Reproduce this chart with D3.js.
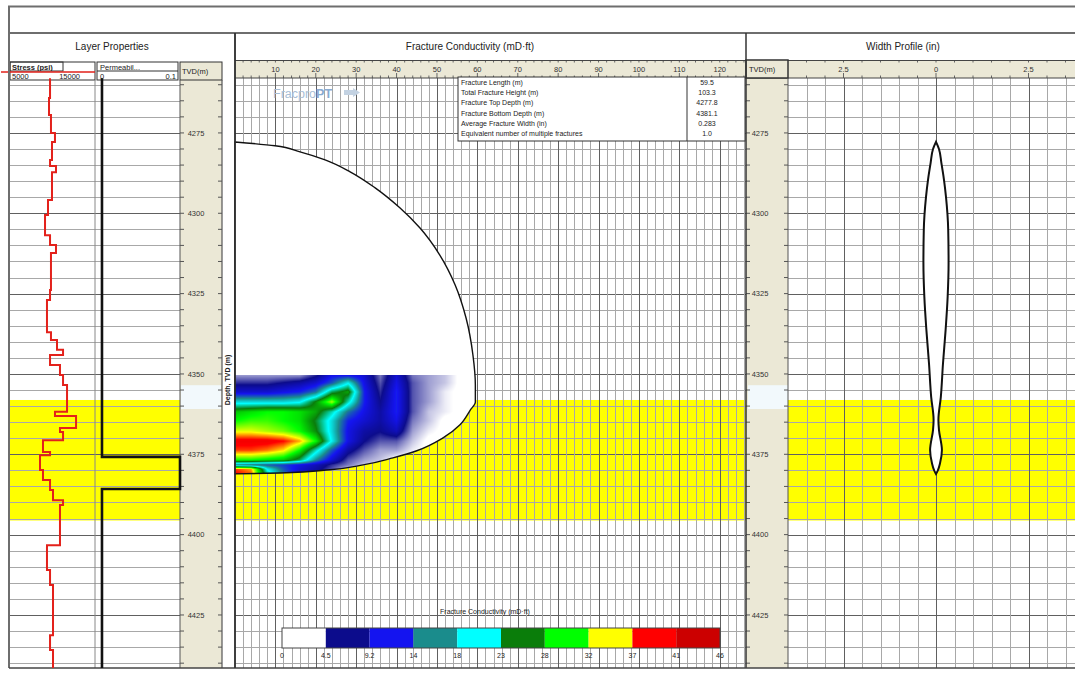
<!DOCTYPE html>
<html>
<head>
<meta charset="utf-8">
<script src="https://cdn.jsdelivr.net/npm/d3@7"></script>
<style>
  body { margin: 0; background: #fff; }
  svg { display: block; font-family: "Liberation Sans", Arial, sans-serif; }
</style>
</head>
<body>
<svg id="chart" width="1075" height="676"></svg>
<script>
// ---- Data ----
const depthTicks = [4275, 4300, 4325, 4350, 4375, 4400, 4425];
const lengthTicks = [10, 20, 30, 40, 50, 60, 70, 80, 90, 100, 110, 120];
const widthTicks = [-2.5, 0, 2.5];

// closure stress log: top depth of each layer (m) and stress (psi)
const stressTop = [4258, 4264.1, 4269.4, 4275.0, 4277.8, 4283.4, 4285.3, 4287.2, 4295.9, 4300.5,
  4306.8, 4309.9, 4312.4, 4323.9, 4327.0, 4337.0, 4339.4, 4342.5, 4344.1, 4347.2,
  4350.3, 4353.4, 4361.8, 4363.1, 4366.8, 4368.1, 4370.6, 4374.3, 4375.3, 4379.9,
  4383.0, 4386.1, 4389.3, 4390.8, 4403.3, 4411.0, 4415.7, 4431.3, 4435.9];
const stressPsi = [9710, 9590, 9820, 10290, 9940, 9710, 10410, 9940, 9470, 9120,
  9710, 10410, 9820, 9710, 9350, 9820, 10530, 11240, 9710, 10880,
  11240, 11710, 10290, 12770, 10880, 11240, 8880, 9710, 8530, 8880,
  9710, 10060, 11240, 10880, 9350, 9710, 10060, 9710, 10060];

// permeability log (mD)
const permTop = [4258, 4375.8, 4385.8];
const permValue = [0.006, 0.1, 0.006];

const logBottom = 4441.5;
const payZone = [4358.1, 4395.6];
const perfZone = [4353.5, 4360.9];

// fracture outline: half-length (m) vs depth (m)
const outlineLength = [0, 9.9, 16.1, 22.3, 28.5, 34.7, 40.8, 45.8, 50.7, 54.5, 57.2, 58.9, 59.5,
  59.5, 58.2, 55.7, 51.5, 45.0, 39.1, 31.7, 23.5, 11.1, 0];
const outlineDepth = [4277.8, 4279.0, 4280.9, 4283.4, 4287.1, 4292.1, 4298.3, 4304.6, 4313.0, 4322.3, 4332.6, 4344.1, 4353.4,
  4358.7, 4361.3, 4365.8, 4369.9, 4373.9, 4376.1, 4378.3, 4379.8, 4380.8, 4381.1];

// conductivity field (mD·ft) sampled on length × depth nodes
const condLengths = [0, 4, 8, 12, 16, 20, 24, 28, 32, 36, 40, 44, 48, 52, 56];
const condDepths = [4350.3, 4352.8, 4355.6, 4358.7, 4361.8, 4364.6, 4367.8, 4370.9, 4373.7, 4376.8, 4378.3, 4379.6, 4381.8];
const condGrid = [
  [3, 3, 3, 3, 3, 6, 11, 11, 10, 4, 10, 4, 3, 2, 0],
  [6, 6, 6, 7, 8, 10, 14, 20, 11, 5, 11, 5, 3, 2, 0],
  [10, 10, 10, 11, 12, 15, 24, 27, 12, 6, 12, 5, 3, 1, 0],
  [19, 19, 19, 19, 20, 26, 33, 22, 12, 7, 12, 5, 3, 1, 0],
  [28, 29, 30, 30, 29, 27, 22, 15, 11, 8, 12, 5, 2, 1, 0],
  [30, 31, 31, 30, 29, 25, 19, 12, 10, 8, 11, 4, 2, 0, 0],
  [34, 34, 33, 32, 30, 26, 19, 11, 8, 7, 9, 3, 1, 0, 0],
  [40, 40, 40, 39, 36, 30, 20, 11, 7, 5, 5, 2, 0, 0, 0],
  [38, 38, 37, 35, 30, 22, 14, 8, 5, 3, 3, 1, 0, 0, 0],
  [30, 30, 29, 28, 24, 16, 10, 5, 3, 2, 0, 0, 0, 0, 0],
  [16, 15, 14, 13, 11, 9, 6, 4, 2, 1, 0, 0, 0, 0, 0],
  [38, 36, 20, 14, 10, 8, 5, 2, 1, 0, 0, 0, 0, 0, 0],
  [40, 38, 24, 16, 10, 7, 4, 1, 0, 0, 0, 0, 0, 0, 0]
];

// width profile: full width (in) vs depth (m)
const widthDepth = [4277.8, 4280.0, 4284.3, 4289.5, 4294.9, 4305.2, 4315.5, 4326.0, 4336.3, 4346.6,
  4357.2, 4364.3, 4367.4, 4373.7, 4377.7, 4380.0, 4381.1];
const widthInches = [0, 0.16, 0.29, 0.43, 0.54, 0.66, 0.68, 0.63, 0.52, 0.38,
  0.26, 0.13, 0.16, 0.32, 0.22, 0.10, 0];

const legendBreaks = [0, 4.5, 9.2, 14, 18, 23, 28, 32, 37, 41, 46];
const legendLabels = ["0", "4.5", "9.2", "14", "18", "23", "28", "32", "37", "41", "46"];
const legendColors = ["#ffffff", "#0c0c8c", "#1414f0", "#1a8c8c", "#00ffff", "#0a7d0a", "#00ff00", "#ffff00", "#ff0000", "#cc0000"];

const summaryLabels = ["Fracture Length (m)", "Total Fracture Height (m)", "Fracture Top Depth (m)",
  "Fracture Bottom Depth (m)", "Average Fracture Width (in)", "Equivalent number of multiple fractures"];
const summaryValues = ["59.5", "103.3", "4277.8", "4381.1", "0.283", "1.0"];

// ---- Scales ----
const svg = d3.select("#chart");
const TOP = 78.3, BOT = 668;
const y = d3.scaleLinear().domain([4258, logBottom]).range([TOP, BOT]);
const xStress = d3.scaleLinear().domain([5000, 15000]).range([10, 95]);
const xPerm = d3.scaleLinear().domain([0, 0.1]).range([97, 180]);
const xLen = d3.scaleLinear().domain([0, 126.5]).range([235, 746]);
const xWid = d3.scaleLinear().domain([-4, 4]).range([788, 1084]);
const gridDepths = d3.range(4260, 4441, 5);

const BEIGE = "#ebe8d6", MINOR = "#a8a8a8", MAJOR = "#606060", FRAME = "#6e6e6e";

// ---- Frame and titles ----
const frame = svg.append("g");
frame.append("line").attr("x1", 8).attr("x2", 1075).attr("y1", 6.5).attr("y2", 6.5).attr("stroke", FRAME).attr("stroke-width", 2);
frame.append("line").attr("x1", 9).attr("x2", 1075).attr("y1", 33).attr("y2", 33).attr("stroke", FRAME).attr("stroke-width", 2);

const titles = [["Layer Properties", 112], ["Fracture Conductivity (mD\u00b7ft)", 470], ["Width Profile (in)", 903]];
svg.selectAll("text.title").data(titles).join("text").attr("class", "title")
  .attr("x", d => d[1]).attr("y", 50).attr("text-anchor", "middle")
  .attr("font-size", 10).attr("fill", "#222").text(d => d[0]);

// beige axis rows
svg.append("rect").attr("x", 235).attr("y", 60).attr("width", 511).attr("height", 18).attr("fill", BEIGE);
svg.append("rect").attr("x", 746).attr("y", 60).attr("width", 329).attr("height", 18).attr("fill", BEIGE);

// pay zone
const payY0 = y(payZone[0]), payY1 = y(payZone[1]);
[[10, 180], [235, 746], [788, 1075]].forEach(r => {
  svg.append("rect").attr("x", r[0]).attr("y", payY0).attr("width", r[1] - r[0]).attr("height", payY1 - payY0).attr("fill", "#ffff00");
});

// TVD columns
svg.append("rect").attr("x", 180).attr("y", 80).attr("width", 42).attr("height", BOT - 80).attr("fill", BEIGE);
svg.append("rect").attr("x", 746).attr("y", 78).attr("width", 42).attr("height", BOT - 78).attr("fill", BEIGE);
[[181, 221], [748, 788]].forEach(r => {
  svg.append("rect").attr("x", r[0]).attr("y", y(perfZone[0])).attr("width", r[1] - r[0])
    .attr("height", y(perfZone[1]) - y(perfZone[0])).attr("fill", "#f2f9fc");
});

// ---- Grids ----
const grid = svg.append("g");
[[10, 180], [235, 746], [788, 1075]].forEach(r => {
  grid.selectAll(null).data(gridDepths).join("line")
    .attr("x1", r[0]).attr("x2", r[1]).attr("y1", d => Math.round(y(d)) + 0.5).attr("y2", d => Math.round(y(d)) + 0.5)
    .attr("stroke", d => d % 25 === 0 ? MAJOR : MINOR).attr("stroke-width", 1);
});
const lenGrid = d3.range(2, 127, 2);
grid.selectAll(null).data(lenGrid).join("line")
  .attr("x1", d => Math.round(xLen(d)) + 0.5).attr("x2", d => Math.round(xLen(d)) + 0.5)
  .attr("y1", 78).attr("y2", BOT)
  .attr("stroke", d => d % 10 === 0 ? MAJOR : MINOR).attr("stroke-width", 1);
const widGrid = d3.range(-3.5, 4.01, 0.5);
grid.selectAll(null).data(widGrid).join("line")
  .attr("x1", d => Math.round(xWid(d)) + 0.5).attr("x2", d => Math.round(xWid(d)) + 0.5)
  .attr("y1", 78).attr("y2", BOT)
  .attr("stroke", d => Math.abs(d % 2.5) < 1e-9 ? MAJOR : MINOR).attr("stroke-width", 1);

// ---- Axis rows ----
const axisG = svg.append("g").attr("font-size", 7.5).attr("fill", "#333");
axisG.selectAll(null).data(lengthTicks).join("text")
  .attr("x", d => xLen(d)).attr("y", 72).attr("text-anchor", "middle").text(d => d);
axisG.selectAll(null).data(lenGrid).join("line")
  .attr("x1", d => xLen(d)).attr("x2", d => xLen(d)).attr("y1", 60).attr("y2", 62.5).attr("stroke", "#666");
axisG.selectAll(null).data(lenGrid).join("line")
  .attr("x1", d => xLen(d)).attr("x2", d => xLen(d)).attr("y1", d => d % 10 === 0 ? 73 : 75.5).attr("y2", 78).attr("stroke", "#666");
axisG.selectAll(null).data(widthTicks).join("text")
  .attr("x", d => xWid(d)).attr("y", 72).attr("text-anchor", "middle").text(d => Math.abs(d));
axisG.selectAll(null).data(widGrid.filter(d => xWid(d) > 790)).join("line")
  .attr("x1", d => xWid(d)).attr("x2", d => xWid(d)).attr("y1", 60).attr("y2", 62.5).attr("stroke", "#666");
axisG.selectAll(null).data(widGrid.filter(d => xWid(d) > 790)).join("line")
  .attr("x1", d => xWid(d)).attr("x2", d => xWid(d)).attr("y1", d => Math.abs(d % 2.5) < 1e-9 ? 73 : 75.5).attr("y2", 78).attr("stroke", "#666");
axisG.append("line").attr("x1", 235).attr("x2", 1075).attr("y1", 60.5).attr("y2", 60.5).attr("stroke", "#444");
axisG.append("line").attr("x1", 235).attr("x2", 1075).attr("y1", 78).attr("y2", 78).attr("stroke", "#444");

// ---- Layer property headers ----
const hdr = svg.append("g").attr("font-size", 7.5).attr("fill", "#222");
svg.append("clipPath").attr("id", "stressLbl").append("rect").attr("x", 10).attr("y", 61).attr("width", 53).attr("height", 10);
hdr.append("rect").attr("x", 10).attr("y", 62).attr("width", 85).attr("height", 18).attr("fill", "#fff").attr("stroke", "#333");
hdr.append("rect").attr("x", 10).attr("y", 62).attr("width", 53).attr("height", 9).attr("fill", "none").attr("stroke", "#333");
hdr.append("text").attr("x", 12).attr("y", 69.5).attr("font-weight", "bold").attr("clip-path", "url(#stressLbl)").text("Stress (psi)");
hdr.append("text").attr("x", 12).attr("y", 78.5).text("5000");
hdr.append("text").attr("x", 80).attr("y", 78.5).attr("text-anchor", "end").text("15000");
hdr.append("rect").attr("x", 97).attr("y", 62).attr("width", 81).attr("height", 18).attr("fill", "#fff").attr("stroke", "#333");
hdr.append("line").attr("x1", 97).attr("x2", 178).attr("y1", 71).attr("y2", 71).attr("stroke", "#333");
hdr.append("text").attr("x", 100).attr("y", 69.5).text("Permeabil...");
hdr.append("text").attr("x", 100).attr("y", 78.5).text("0");
hdr.append("text").attr("x", 176).attr("y", 78.5).attr("text-anchor", "end").text("0.1");
hdr.append("line").attr("x1", 1).attr("x2", 95).attr("y1", 72).attr("y2", 72).attr("stroke", "#e0201a").attr("stroke-width", 1.5);
hdr.append("rect").attr("x", 180).attr("y", 62).attr("width", 42).attr("height", 18).attr("fill", BEIGE).attr("stroke", "#333");
hdr.append("text").attr("x", 182).attr("y", 74).text("TVD(m)");
hdr.append("rect").attr("x", 746).attr("y", 60).attr("width", 42).attr("height", 18).attr("fill", BEIGE).attr("stroke", "#333").attr("stroke-width", 1.5);
hdr.append("text").attr("x", 749).attr("y", 72).text("TVD(m)");

// ---- Depth columns ----
const tvd = svg.append("g").attr("font-size", 7.5).attr("fill", "#333");
[[180, 222, 196], [746, 788, 760]].forEach(c => {
  tvd.selectAll(null).data(gridDepths).join("line")
    .attr("x1", c[0]).attr("x2", c[0] + 4).attr("y1", d => y(d)).attr("y2", d => y(d)).attr("stroke", "#555");
  tvd.selectAll(null).data(gridDepths).join("line")
    .attr("x1", c[1] - 4).attr("x2", c[1]).attr("y1", d => y(d)).attr("y2", d => y(d)).attr("stroke", "#555");
  tvd.selectAll(null).data(depthTicks).join("text")
    .attr("x", c[2]).attr("y", d => y(d) + 2.7).attr("text-anchor", "middle").text(d => d);
});
svg.append("text").attr("transform", "translate(230,380) rotate(-90)").attr("text-anchor", "middle")
  .attr("font-size", 7).attr("font-weight", "bold").attr("fill", "#222").text("Depth, TVD (m)");

// ---- Separators ----
const sep = svg.append("g");
[[9, 6, BOT, FRAME, 2], [95, 80, BOT, "#888", 1], [180, 80, BOT, "#555", 1], [222, 80, BOT, "#555", 1.2],
 [235, 33, BOT, "#333", 1.5], [746, 33, BOT, "#333", 1.5], [788, 78, BOT, "#555", 1]].forEach(s => {
  sep.append("line").attr("x1", s[0]).attr("x2", s[0]).attr("y1", s[1]).attr("y2", s[2]).attr("stroke", s[3]).attr("stroke-width", s[4]);
});
sep.append("line").attr("x1", 9).attr("x2", 1075).attr("y1", BOT).attr("y2", BOT).attr("stroke", "#444").attr("stroke-width", 1.5);

// ---- Stress and permeability logs ----
function stepPoints(tops, vals, xs) {
  const pts = [];
  tops.forEach((t, i) => {
    const b = i < tops.length - 1 ? tops[i + 1] : logBottom;
    pts.push([xs(vals[i]), y(t)], [xs(vals[i]), y(b)]);
  });
  return pts;
}
svg.append("path").attr("d", d3.line()(stepPoints(stressTop, stressPsi, xStress)))
  .attr("fill", "none").attr("stroke", "#e3211b").attr("stroke-width", 2);
svg.append("path").attr("d", d3.line()(stepPoints(permTop, permValue, xPerm)))
  .attr("fill", "none").attr("stroke", "#111").attr("stroke-width", 2.6);

// ---- Fracture geometry ----
const outline = outlineLength.map((l, i) => [xLen(l), y(outlineDepth[i])]);
const outlinePath = d3.line().curve(d3.curveMonotoneY)(outline) + "Z";
svg.append("clipPath").attr("id", "fracClip").append("path").attr("d", outlinePath);
svg.append("path").attr("d", outlinePath).attr("fill", "#fff");

// conductivity colour ramp through the legend colours
const colorStops = legendColors.map((c, i) => i === 0 ? 0.5 : (legendBreaks[i] + legendBreaks[i + 1]) / 2);
const condColor = d3.scaleLinear().domain(colorStops).range(legendColors).clamp(true);

function sampleCond(L, D) {
  const nc = condLengths.length, nr = condDepths.length;
  const ci = Math.max(0, Math.min(nc - 2, d3.bisectRight(condLengths, L) - 1));
  const ri = Math.max(0, Math.min(nr - 2, d3.bisectRight(condDepths, D) - 1));
  const tx = Math.max(0, Math.min(1, (L - condLengths[ci]) / (condLengths[ci + 1] - condLengths[ci])));
  const ty = Math.max(0, Math.min(1, (D - condDepths[ri]) / (condDepths[ri + 1] - condDepths[ri])));
  const a = condGrid[ri][ci], b = condGrid[ri][ci + 1], c = condGrid[ri + 1][ci], d = condGrid[ri + 1][ci + 1];
  return (a * (1 - tx) + b * tx) * (1 - ty) + (c * (1 - tx) + d * tx) * ty;
}
const hx0 = 235, hx1 = 480;
const hy0 = Math.round(y(condDepths[0])), hy1 = Math.ceil(y(condDepths[condDepths.length - 1])) + 2;
const cw = hx1 - hx0, ch = hy1 - hy0;
const canvas = document.createElement("canvas");
canvas.width = cw; canvas.height = ch;
const ctx = canvas.getContext("2d");
const img = ctx.createImageData(cw, ch);
for (let py = 0; py < ch; py++) {
  for (let px = 0; px < cw; px++) {
    const v = sampleCond(xLen.invert(hx0 + px + 0.5), y.invert(hy0 + py + 0.5));
    const c = d3.rgb(condColor(v));
    const k = (py * cw + px) * 4;
    img.data[k] = c.r; img.data[k + 1] = c.g; img.data[k + 2] = c.b; img.data[k + 3] = 255;
  }
}
ctx.putImageData(img, 0, 0);
svg.append("image").attr("href", canvas.toDataURL()).attr("x", hx0).attr("y", hy0)
  .attr("width", cw).attr("height", ch).attr("clip-path", "url(#fracClip)");
svg.append("path").attr("d", outlinePath).attr("fill", "none").attr("stroke", "#111").attr("stroke-width", 1.4);
svg.append("line").attr("x1", 235).attr("x2", 235).attr("y1", 33).attr("y2", BOT).attr("stroke", "#333").attr("stroke-width", 1.5);

// ---- Width profile ----
const widthData = widthDepth.map((d, i) => ({ d, w: widthInches[i] }));
const widthArea = d3.area().curve(d3.curveMonotoneY)
  .y(p => y(p.d)).x0(p => xWid(-p.w / 2)).x1(p => xWid(p.w / 2));
svg.append("path").attr("d", widthArea(widthData)).attr("fill", "#fff").attr("stroke", "#111").attr("stroke-width", 2);

// ---- Summary table ----
const sum = svg.append("g").attr("font-size", 7).attr("fill", "#222");
sum.append("rect").attr("x", 458).attr("y", 77).attr("width", 287).attr("height", 64).attr("fill", "#fff").attr("stroke", "#333");
sum.append("line").attr("x1", 687).attr("x2", 687).attr("y1", 77).attr("y2", 141).attr("stroke", "#333");
sum.selectAll(null).data(summaryLabels).join("text")
  .attr("x", 461).attr("y", (d, i) => 85 + i * 10.2).text(d => d);
sum.selectAll(null).data(summaryValues).join("text")
  .attr("x", 707).attr("y", (d, i) => 85 + i * 10.2).attr("text-anchor", "middle").text(d => d);

// ---- Watermark ----
const wm = svg.append("g");
const wmText = wm.append("text").attr("x", 273).attr("y", 97.5).attr("font-size", 12.5).attr("fill", "#a8bed6");
wmText.append("tspan").text("Fracpro");
wmText.append("tspan").attr("font-weight", "bold").attr("fill", "#88aad0").text("PT");
wm.append("path").attr("d", "M344,90 L353,90 L353,88 L360,92.5 L353,97 L353,95 L344,95 Z").attr("fill", "#c3d2e2");

// ---- Legend ----
const xLeg = d3.scaleLinear().domain([0, legendColors.length]).range([282, 720]);
const leg = svg.append("g");
leg.append("text").attr("x", 485).attr("y", 614).attr("text-anchor", "middle").attr("font-size", 7).attr("fill", "#222")
  .text("Fracture Conductivity (mD\u00b7ft)");
leg.selectAll(null).data(legendColors).join("rect")
  .attr("x", (d, i) => xLeg(i)).attr("y", 628).attr("width", (d, i) => xLeg(i + 1) - xLeg(i)).attr("height", 20)
  .attr("fill", d => d);
leg.append("rect").attr("x", 282).attr("y", 628).attr("width", 438).attr("height", 20).attr("fill", "none").attr("stroke", "#444");
leg.selectAll(null).data(legendLabels).join("text")
  .attr("x", (d, i) => xLeg(i)).attr("y", 658).attr("text-anchor", "middle").attr("font-size", 7).attr("fill", "#222").text(d => d);
</script>
</body>
</html>
